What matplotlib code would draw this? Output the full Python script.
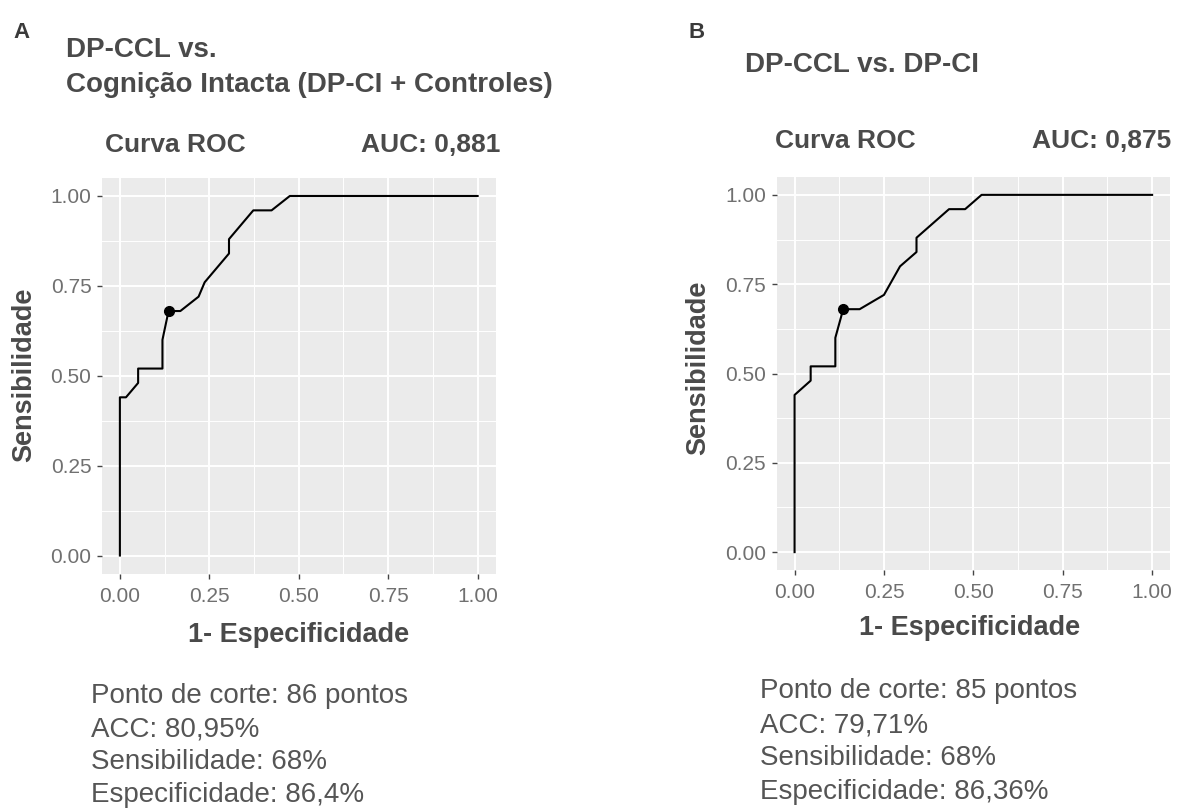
import numpy as np
import matplotlib.pyplot as plt

# ROC vertices (1 - specificity, sensitivity)
fpr_a = [0, 0, 0.017, 0.051, 0.051, 0.119, 0.119, 0.136, 0.169, 0.220, 0.237,
         0.305, 0.305, 0.373, 0.424, 0.475, 1.0]
tpr_a = [0, 0.44, 0.44, 0.48, 0.52, 0.52, 0.60, 0.68, 0.68, 0.72, 0.76,
         0.84, 0.88, 0.96, 0.96, 1.0, 1.0]
fpr_b = [0, 0, 0.045, 0.045, 0.114, 0.114, 0.136, 0.182, 0.250, 0.295, 0.341,
         0.341, 0.432, 0.477, 0.523, 1.0]
tpr_b = [0, 0.44, 0.48, 0.52, 0.52, 0.60, 0.68, 0.68, 0.72, 0.80, 0.84,
         0.88, 0.96, 0.96, 1.0, 1.0]
cut_a = (0.136, 0.68)
cut_b = (0.136, 0.68)

auc_a = "0,881"
auc_b = "0,875"
title_a = ["DP-CCL vs.", "Cognição Intacta (DP-CI + Controles)"]
title_b = ["DP-CCL vs. DP-CI"]
stats_a = ["Ponto de corte: 86 pontos", "ACC: 80,95%",
           "Sensibilidade: 68%", "Especificidade: 86,4%"]
stats_b = ["Ponto de corte: 85 pontos", "ACC: 79,71%",
           "Sensibilidade: 68%", "Especificidade: 86,36%"]

tick_vals = [0, 0.25, 0.5, 0.75, 1.0]
tick_labels = ["0.00", "0.25", "0.50", "0.75", "1.00"]
minor_vals = [0.125, 0.375, 0.625, 0.875]

W, H = 1177, 808
PANEL = "#EBEBEB"
DARK = "#4a4a4a"
BODY = "#555555"
TICK = "#707070"

plt.rcParams["font.family"] = ["Liberation Sans", "DejaVu Sans"]

fig = plt.figure(figsize=(W / 100, H / 100), dpi=100, facecolor="white")


def px(x, y):
    return x / W, 1 - y / H


def roc_panel(rect, fpr, tpr, cut, xlab_xy, ylab_xy):
    ax = fig.add_axes(rect)
    ax.set_facecolor(PANEL)
    for sp in ax.spines.values():
        sp.set_visible(False)
    ax.set_xlim(-0.05, 1.05)
    ax.set_ylim(-0.05, 1.05)
    ax.set_xticks(tick_vals, tick_labels)
    ax.set_yticks(tick_vals, tick_labels)
    ax.set_xticks(minor_vals, minor=True)
    ax.set_yticks(minor_vals, minor=True)
    ax.tick_params(which="major", colors="#444444", labelcolor=TICK,
                   labelsize=15, length=3.6, width=1.0)
    ax.tick_params(axis="x", pad=6)
    ax.tick_params(axis="y", pad=4)
    ax.tick_params(which="minor", length=0)
    ax.grid(which="major", color="white", lw=1.4)
    ax.grid(which="minor", color="white", lw=0.7)
    ax.set_axisbelow(True)

    ax.plot(fpr, tpr, color="black", lw=1.5, zorder=3)
    ax.plot([cut[0]], [cut[1]], "o", color="black", ms=7, zorder=4)

    ax.set_xlabel("1- Especificidade", fontsize=19.5, fontweight="bold",
                  color=DARK, va="center")
    ax.set_ylabel("Sensibilidade", fontsize=19.5, fontweight="bold",
                  color=DARK, va="center")
    ax.xaxis.set_label_coords(*xlab_xy)
    ax.yaxis.set_label_coords(*ylab_xy)
    return ax


ax_a = roc_panel([102 / W, 1 - 573.5 / H, 393.5 / W, 395.5 / H],
                 fpr_a, tpr_a, cut_a, (0.5, -0.155), (-0.198, 0.502))
ax_b = roc_panel([776.7 / W, 1 - 570 / H, 393.3 / W, 393 / H],
                 fpr_b, tpr_b, cut_b, (0.49, -0.148), (-0.200, 0.514))

# panel letters
fig.text(*px(13, 38), "A", fontsize=16, fontweight="bold", color="#3a3a3a",
         va="baseline")
fig.text(*px(688, 38), "B", fontsize=16, fontweight="bold", color="#3a3a3a",
         va="baseline")

# titles
for line, yb in zip(title_a, [57, 92]):
    fig.text(*px(66, yb), line, fontsize=20, fontweight="bold", color=DARK,
             va="baseline")
for line, yb in zip(title_b, [72]):
    fig.text(*px(745, yb), line, fontsize=20, fontweight="bold", color=DARK,
             va="baseline")

# subtitles
fig.text(*px(105, 152), "Curva ROC", fontsize=19, fontweight="bold",
         color=DARK, va="baseline")
fig.text(*px(500, 152), f"AUC: {auc_a}", fontsize=19, fontweight="bold",
         color=DARK, va="baseline", ha="right")
fig.text(*px(775, 148), "Curva ROC", fontsize=19, fontweight="bold",
         color=DARK, va="baseline")
fig.text(*px(1171, 148), f"AUC: {auc_b}", fontsize=19, fontweight="bold",
         color=DARK, va="baseline", ha="right")

# stats blocks
for line, yb in zip(stats_a, [703, 737, 769, 802]):
    fig.text(*px(91, yb), line, fontsize=20, color=BODY, va="baseline")
for line, yb in zip(stats_b, [698, 733, 765, 799]):
    fig.text(*px(760, yb), line, fontsize=20, color=BODY, va="baseline")

fig.savefig("out.png", dpi=100, facecolor="white")
